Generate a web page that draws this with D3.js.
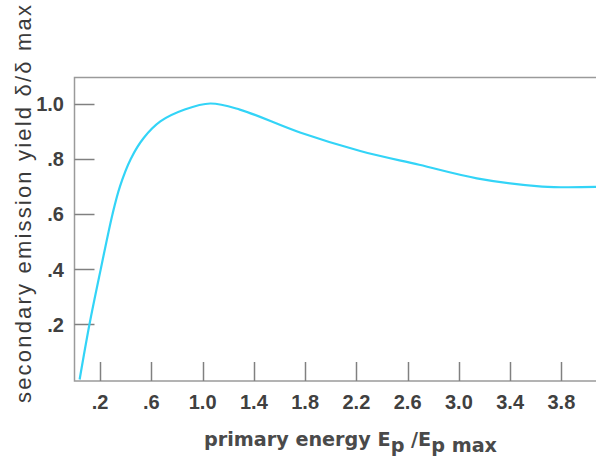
<!DOCTYPE html>
<html>
<head>
<meta charset="utf-8">
<script src="https://cdn.jsdelivr.net/npm/d3@7"></script>
<style>
  html, body { margin: 0; padding: 0; background: #fff; }
  svg { display: block; }
  .tick-label { font-family: "Liberation Sans", Arial, sans-serif; font-size: 20px; font-weight: bold; fill: #404040; }
  .x-title { font-family: "DejaVu Sans", Verdana, sans-serif; font-size: 19px; font-weight: bold; fill: #4a4a4a; }
  .y-title { font-family: "Liberation Sans", Arial, sans-serif; font-size: 22px; fill: #3a3a3a; }
</style>
</head>
<body>
<div id="chart"></div>
<script>
// primary energy Ep/Ep max
const energy = [0.04, 0.117, 0.205, 0.297, 0.355, 0.44, 0.54, 0.67, 0.86, 1.06, 1.29, 1.76, 2.23, 2.69, 3.14, 3.65, 4.07];
// secondary emission yield δ/δ max
const yieldRatio = [0, 0.2, 0.4, 0.6, 0.7, 0.8, 0.875, 0.935, 0.978, 1.0, 0.978, 0.895, 0.828, 0.778, 0.729, 0.699, 0.698];

const xTicks = [0.2, 0.6, 1.0, 1.4, 1.8, 2.2, 2.6, 3.0, 3.4, 3.8];
const xTickLabels = [".2", ".6", "1.0", "1.4", "1.8", "2.2", "2.6", "3.0", "3.4", "3.8"];
const yTicks = [0.2, 0.4, 0.6, 0.8, 1.0];
const yTickLabels = [".2", ".4", ".6", ".8", "1.0"];

const width = 596, height = 461;
const plotLeft = 74.5, plotRight = 596, plotTop = 77.5, plotBottom = 381;

const x = d3.scaleLinear().domain([0, 4.07]).range([plotLeft, plotRight]);
const y = d3.scaleLinear().domain([0, 1]).range([379.5, 103.5]);

const svg = d3.select("#chart").append("svg")
  .attr("width", width)
  .attr("height", height)
  .attr("viewBox", `0 0 ${width} ${height}`);

// frame: left, top, bottom
svg.append("path")
  .attr("d", `M${plotRight},${plotTop}H${plotLeft}V${plotBottom}H${plotRight}`)
  .attr("fill", "none")
  .attr("stroke", "#9a9a9a")
  .attr("stroke-width", 1.5);

// inward ticks
svg.append("g").selectAll("line").data(yTicks).join("line")
  .attr("x1", plotLeft).attr("x2", plotLeft + 20)
  .attr("y1", (d) => Math.round(y(d)) + 0.5).attr("y2", (d) => Math.round(y(d)) + 0.5)
  .attr("stroke", "#808080").attr("stroke-width", 1.5);

svg.append("g").selectAll("line").data(xTicks).join("line")
  .attr("x1", (d) => Math.round(x(d)) + 0.5).attr("x2", (d) => Math.round(x(d)) + 0.5)
  .attr("y1", plotBottom).attr("y2", plotBottom - 19)
  .attr("stroke", "#808080").attr("stroke-width", 1.5);

// tick labels
svg.append("g").selectAll("text").data(yTicks).join("text")
  .attr("class", "tick-label")
  .attr("x", 64)
  .attr("y", (d) => y(d) + 7.5)
  .attr("text-anchor", "end")
  .text((d, i) => yTickLabels[i]);

svg.append("g").selectAll("text").data(xTicks).join("text")
  .attr("class", "tick-label")
  .attr("x", (d) => x(d))
  .attr("y", 409)
  .attr("text-anchor", "middle")
  .text((d, i) => xTickLabels[i]);

// the curve
const line = d3.line()
  .x((d) => x(d[0]))
  .y((d) => y(d[1]))
  .curve(d3.curveCatmullRom.alpha(0.5));

svg.append("path")
  .datum(energy.map((e, i) => [e, yieldRatio[i]]))
  .attr("d", line)
  .attr("fill", "none")
  .attr("stroke", "#33d4f7")
  .attr("stroke-width", 2.2);

// axis titles
const xt = svg.append("text")
  .attr("class", "x-title")
  .attr("x", 204)
  .attr("y", 446)
  .attr("textLength", 293)
  .attr("lengthAdjust", "spacingAndGlyphs");
xt.append("tspan").text("primary energy E");
xt.append("tspan").attr("dy", 6).text("p");
xt.append("tspan").attr("dy", -6).text(" /E");
xt.append("tspan").attr("dy", 6).text("p max");

svg.append("text")
  .attr("class", "y-title")
  .attr("transform", "translate(31,403) rotate(-90)")
  .attr("textLength", 398)
  .attr("lengthAdjust", "spacing")
  .text("secondary emission yield δ/δ max");
</script>
</body>
</html>
